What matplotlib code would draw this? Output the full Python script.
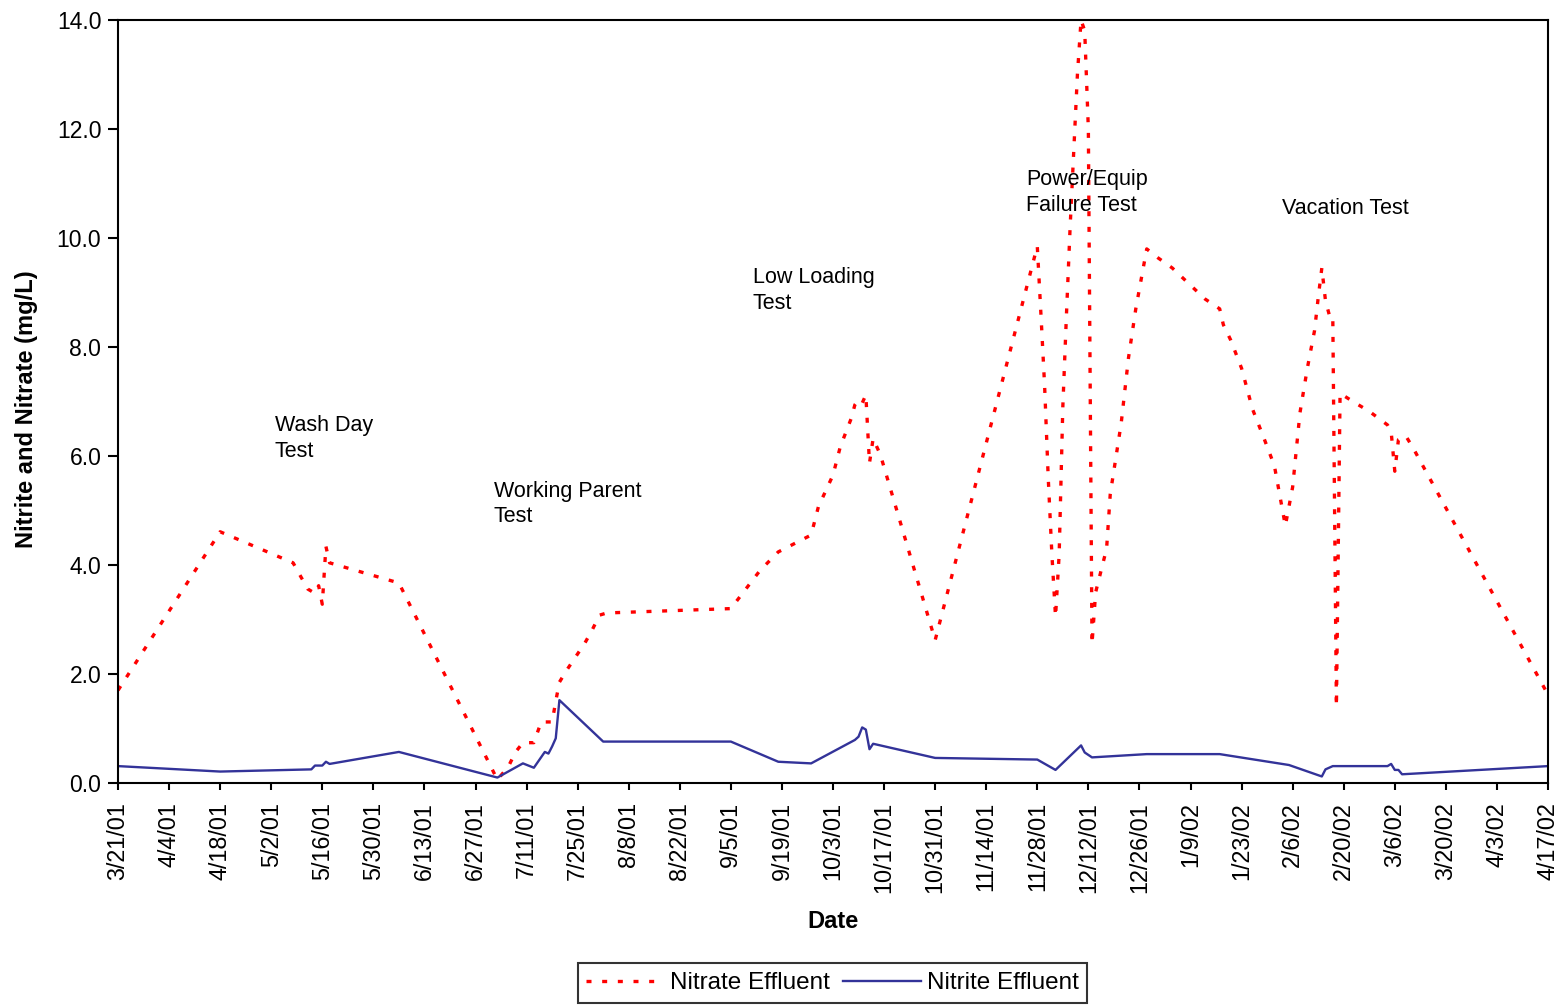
import numpy as np
import pandas as pd
import matplotlib
matplotlib.use('Agg')
import matplotlib.pyplot as plt

plt.rcParams['font.family'] = ['Liberation Sans', 'DejaVu Sans']

# sampling days, counted from 3/21/01
start = pd.Timestamp('2001-03-21')

nitrate_day = [0, 28, 48, 52, 54, 55, 56, 57, 58, 77, 88, 104, 107, 109, 111, 114,
               116, 119, 120, 121, 123, 128, 130, 132, 134, 168, 176, 181, 190, 192,
               196, 198, 201, 202, 203, 204, 205, 206, 207, 209, 224, 252, 253, 254,
               255, 256, 257, 258, 259, 260, 261, 262, 263, 264, 265, 266, 267, 268,
               271, 272, 275, 277, 279, 282, 285, 289, 295, 298, 302, 303, 305, 308,
               311, 314, 317, 320, 322, 324, 326, 328, 329, 330, 331, 332, 333, 334,
               335, 339, 343, 346, 348, 349, 350, 351, 353, 355, 392]
nitrate = [1.70, 4.61, 4.04, 3.56, 3.48, 3.62, 3.28, 4.34, 4.04, 3.67, 2.20, 0.06, 0.30,
           0.57, 0.74, 0.74, 1.12, 1.12, 1.50, 1.85, 2.07, 2.57, 2.81, 3.08, 3.12, 3.20,
           3.90, 4.24, 4.55, 5.07, 5.65, 6.17, 6.69, 6.94, 7.03, 6.97, 7.12, 5.87, 6.32,
           6.02, 2.62, 9.85, 8.60, 7.30, 5.60, 4.20, 3.05, 4.20, 6.90, 8.60, 10.20, 11.60,
           13.00, 14.00, 13.80, 12.00, 2.55, 3.50, 4.30, 5.30, 6.60, 7.80, 8.70, 9.80,
           9.64, 9.45, 9.07, 8.88, 8.70, 8.41, 8.13, 7.61, 6.86, 6.35, 5.82, 4.72, 5.43,
           6.79, 7.60, 8.30, 8.90, 9.45, 8.85, 8.60, 8.60, 1.40, 7.15, 6.98, 6.82, 6.67,
           6.57, 6.45, 5.72, 6.30, 6.37, 6.15, 1.62]

nitrite_day = [0, 28, 53, 54, 56, 57, 58, 77, 104, 111, 114, 117, 118, 119, 120, 121,
               133, 168, 181, 190, 202, 203, 204, 205, 206, 207, 224, 252, 257, 264,
               265, 267, 282, 302, 321, 330, 331, 333, 348, 349, 350, 351, 352, 392]
nitrite = [0.31, 0.21, 0.25, 0.32, 0.32, 0.39, 0.35, 0.57, 0.10, 0.36, 0.28, 0.57, 0.54,
           0.67, 0.82, 1.52, 0.76, 0.76, 0.39, 0.36, 0.79, 0.85, 1.02, 0.98, 0.62, 0.72,
           0.46, 0.43, 0.24, 0.69, 0.56, 0.47, 0.53, 0.53, 0.33, 0.12, 0.25, 0.31, 0.31,
           0.35, 0.24, 0.24, 0.16, 0.31]

tick_labels = ['3/21/01', '4/4/01', '4/18/01', '5/2/01', '5/16/01', '5/30/01', '6/13/01',
               '6/27/01', '7/11/01', '7/25/01', '8/8/01', '8/22/01', '9/5/01', '9/19/01',
               '10/3/01', '10/17/01', '10/31/01', '11/14/01', '11/28/01', '12/12/01',
               '12/26/01', '1/9/02', '1/23/02', '2/6/02', '2/20/02', '3/6/02', '3/20/02',
               '4/3/02', '4/17/02']

notes = ['Wash Day\nTest', 'Working Parent\nTest', 'Low Loading\nTest',
         'Power/Equip\nFailure Test', 'Vacation Test']
note_dates = ['2001-05-03', '2001-07-02', '2001-09-11', '2001-11-25', '2002-02-03']
note_levels = [6.32, 5.12, 9.03, 10.84, 10.55]

nitrate_x = start + pd.to_timedelta(nitrate_day, unit='D')
nitrite_x = start + pd.to_timedelta(nitrite_day, unit='D')
ticks = pd.to_datetime(tick_labels, format='%m/%d/%y')

fig = plt.figure(figsize=(15.6, 10.05), dpi=100)
ax = fig.add_axes([118/1560, 1 - 783/1005, 1430/1560, 763/1005])

ax.plot(nitrate_x, nitrate, color='#FF0000', lw=2.4, linestyle=(0, (1.5, 3.2)),
        label='Nitrate Effluent')
ax.plot(nitrite_x, nitrite, color='#333399', lw=1.7, label='Nitrite Effluent')

ax.set_xlim(ticks[0], ticks[-1])
ax.set_ylim(0, 14)
ax.set_xticks(ticks)
ax.set_xticklabels(tick_labels, rotation=90, fontsize=16.8)
yt = np.arange(0, 14.1, 2)
ax.set_yticks(yt)
ax.set_yticklabels([f'{v:.1f}' for v in yt], fontsize=16.5)
ax.tick_params(axis='y', direction='out', length=7, width=1.5, pad=5)
ax.tick_params(axis='x', direction='out', length=5, width=1.5, pad=8.5)
for s in ax.spines.values():
    s.set_linewidth(1.5)

ax.set_xlabel('Date', fontsize=17, fontweight='bold')
ax.set_ylabel('Nitrite and Nitrate (mg/L)', fontsize=17, fontweight='bold')
ax.xaxis.set_label_coords(0.5, -0.166)
ax.yaxis.set_label_coords(-0.056, 0.49)

for t, d, v in zip(notes, note_dates, note_levels):
    ax.text(pd.Timestamp(d), v, t, fontsize=15.5, ha='left', va='center', linespacing=1.3)

leg = fig.legend(loc='center', bbox_to_anchor=(832.5/1560, 1 - 983/1005), ncol=2,
                 fontsize=17.5, frameon=True, fancybox=False, edgecolor='black',
                 handlelength=3.2, columnspacing=0.55, handletextpad=0.25,
                 borderpad=0.35, borderaxespad=0)
leg.get_frame().set_linewidth(1.5)

fig.savefig('out.png', dpi=100)
